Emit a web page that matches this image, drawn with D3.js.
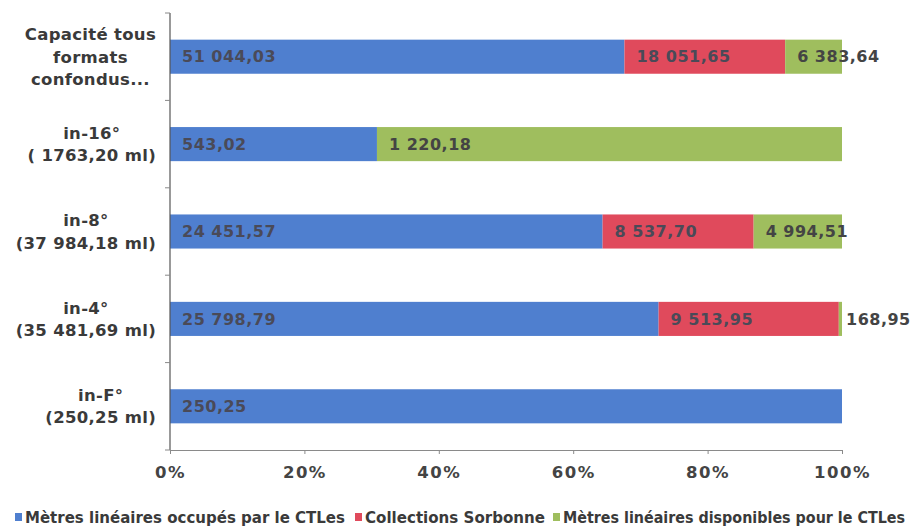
<!DOCTYPE html>
<html>
<head>
<meta charset="utf-8">
<script src="https://cdn.jsdelivr.net/npm/d3@7"></script>
<style>
  body { margin: 0; background: #fff; }
  svg { display: block; }
</style>
</head>
<body>
<svg id="chart" width="912" height="529"></svg>
<script>
// categories, top to bottom
const categories = [
    ["Capacité tous", "formats", "confondus..."],
    ["in-16°", "( 1763,20 ml)"],
    ["in-8°", "(37 984,18 ml)"],
    ["in-4°", "(35 481,69 ml)"],
    ["in-F°", "(250,25 ml)"]
];
const seriesNames = [
    "Mètres linéaires occupés par le CTLes",
    "Collections Sorbonne",
    "Mètres linéaires disponibles pour le CTLes"
];
const occupes    = [51044.03, 543.02, 24451.57, 25798.79, 250.25];
const sorbonne   = [18051.65, 0,      8537.70,  9513.95,  0];
const disponibles= [6383.64,  1220.18, 4994.51, 168.95,   0];
const tickValues = [0, 0.2, 0.4, 0.6, 0.8, 1];
const colors = ["#4f7fcf", "#e04a5c", "#9fbe5e"];

const svg = d3.select("#chart");
const margin = {top: 13, left: 170, right: 70, bottom: 79};
const W = 912, H = 529;
const FONT = "DejaVu Sans, Verdana, sans-serif";

const x = d3.scaleLinear().domain([0, 1]).range([margin.left, W - margin.right]);
const y = d3.scaleBand().domain(d3.range(categories.length))
    .range([margin.top, H - margin.bottom]).paddingInner(0.61).paddingOuter(0.305);

// build stacked rows (percent)
const rows = categories.map((c, i) => {
    const vals = [occupes[i], sorbonne[i], disponibles[i]];
    const tot = d3.sum(vals);
    let acc = 0;
    return vals.map((v, k) => {
        const seg = {row: i, k, v, x0: acc / tot, x1: (acc + v) / tot};
        acc += v;
        return seg;
    });
});

const fmt = v => {
    const s = v.toFixed(2).split(".");
    return s[0].replace(/\B(?=(\d{3})+(?!\d))/g, " ") + "," + s[1];
};

const body = svg.append("g").attr("class", "chartBody");
const segs = rows.flat().filter(d => d.v > 0);

body.selectAll("rect").data(segs).enter().append("rect")
    .attr("x", d => x(d.x0))
    .attr("width", d => x(d.x1) - x(d.x0))
    .attr("y", d => y(d.row))
    .attr("height", y.bandwidth())
    .style("fill", d => colors[d.k]);

body.selectAll("text.val").data(segs).enter().append("text")
    .attr("class", "val")
    .attr("x", d => {
        const w = x(d.x1) - x(d.x0);
        return w < 10 ? x(d.x1) + 4 : x(d.x0) + 12;
    })
    .attr("y", d => y(d.row) + y.bandwidth() / 2)
    .attr("dy", "0.36em")
    .style("font-family", FONT)
    .style("font-size", "16px")
    .style("font-weight", "bold")
    .style("letter-spacing", "0.5px")
    .style("fill", d => d.k == 2 ? "#444" : "#4a4a58")
    .text(d => fmt(d.v));

// x axis
const xAxis = svg.append("g").attr("transform", `translate(0,${H - margin.bottom})`)
    .call(d3.axisBottom(x).tickValues(tickValues).tickFormat(d3.format(".0%")).tickSize(4).tickPadding(12));
xAxis.select(".domain").attr("stroke", "#8a8a8a");
xAxis.selectAll(".tick line").attr("stroke", "#8a8a8a");
xAxis.selectAll("text")
    .style("font-family", FONT)
    .style("font-size", "16.5px")
    .style("font-weight", "bold")
    .style("letter-spacing", "1.5px")
    .style("fill", "#444");

// y axis
const yAxisG = svg.append("g");
yAxisG.append("line")
    .attr("x1", margin.left).attr("x2", margin.left)
    .attr("y1", margin.top).attr("y2", H - margin.bottom)
    .attr("stroke", "#555").attr("stroke-width", 1.2);
const step = y.step();
yAxisG.selectAll("line.tk").data(d3.range(categories.length + 1)).enter().append("line")
    .attr("class", "tk")
    .attr("x1", margin.left - 5).attr("x2", margin.left)
    .attr("y1", i => margin.top + i * step).attr("y2", i => margin.top + i * step)
    .attr("stroke", "#888");

// category labels, block right aligned, lines centered
const labelRight = 156, lh = 22.5;
categories.forEach((lines, i) => {
    const g = yAxisG.append("g");
    const cy = y(i) + y.bandwidth() / 2;
    const t = g.selectAll("text").data(lines).enter().append("text")
        .attr("y", (d, j) => cy + (j - (lines.length - 1) / 2) * lh)
        .attr("dy", "0.36em")
        .attr("text-anchor", "middle")
        .style("font-family", FONT)
        .style("font-size", "16.5px")
        .style("font-weight", "bold")
        .style("letter-spacing", "0.3px")
        .style("fill", "#3a3a3a")
        .text(d => d);
    const maxW = d3.max(t.nodes(), n => n.getComputedTextLength());
    t.attr("x", labelRight - maxW / 2);
});

// legend
const legendX = [15, 355, 553];
const legendW = [320, 180, 342];
const legend = svg.append("g").attr("transform", "translate(0,523)");
seriesNames.forEach((name, k) => {
    legend.append("rect").attr("x", legendX[k]).attr("y", -10).attr("width", 7).attr("height", 8)
        .style("fill", colors[k]);
    legend.append("text").attr("x", legendX[k] + 10).attr("y", 0)
        .attr("textLength", legendW[k]).attr("lengthAdjust", "spacingAndGlyphs")
        .style("font-family", "DejaVu Sans Condensed, DejaVu Sans, sans-serif")
        .style("font-size", "15.5px")
        .style("font-weight", "bold")
        .style("fill", "#3a3a3a")
        .text(name);
});
</script>
</body>
</html>
